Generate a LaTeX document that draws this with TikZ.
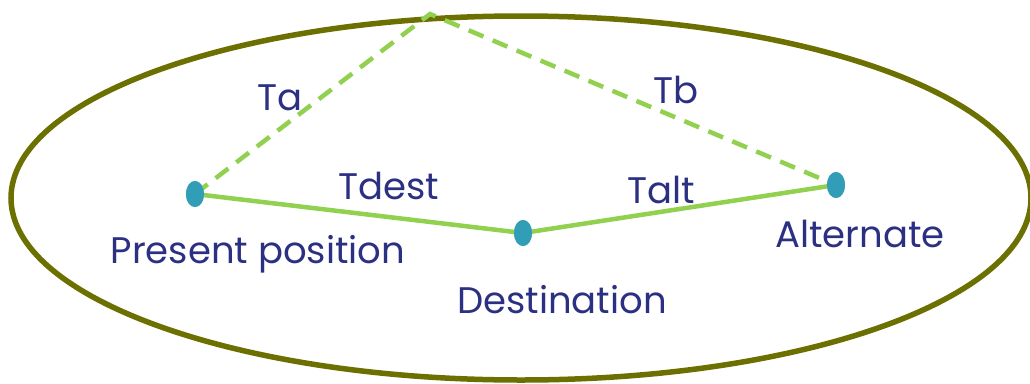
\documentclass[tikz,border=0pt]{standalone}
\usepackage{fontspec}
\setmainfont{Poppins}
\usetikzlibrary{shapes.geometric}
\definecolor{olive}{RGB}{107,112,0}
\definecolor{lgreen}{RGB}{146,208,80}
\definecolor{teal}{RGB}{49,157,183}
\definecolor{navy}{RGB}{44,48,130}
\begin{document}
\begin{tikzpicture}[x=1pt,y=-1pt,
  dot/.style={ellipse,fill=teal,minimum width=18pt,minimum height=26pt,inner sep=0pt},
  lbl/.style={text=navy,font=\fontsize{37}{40}\selectfont,inner sep=0pt},
  route/.style={draw=lgreen,line width=4.5pt},
  alt/.style={draw=lgreen,line width=4.5pt,dash pattern=on 16pt off 10pt}]
\useasboundingbox (0,0) rectangle (1030,383);
\draw[olive,line width=5.5pt] (521,198) ellipse [x radius=510, y radius=182];
\coordinate (apex) at (430,14);
\node[dot] (pp) at (195,194) {};
\node[dot] (dst) at (523,233) {};
\node[dot] (alt) at (836,185) {};
\draw[alt] (pp.center) -- (apex) -- (alt.center);
\draw[route] (pp.center) -- (dst.center) -- (alt.center);
\node[dot] at (pp) {};
\node[dot] at (dst) {};
\node[dot] at (alt) {};
\node[lbl] (ta) at (280,98) {Ta};
\node[lbl] (tb) at (676,90) {Tb};
\node[lbl] (tdest) at (389,186) {Tdest};
\node[lbl] (talt) at (661,190) {Talt};
\node[lbl] (lpp) at (258,254) {Present position};
\node[lbl] (ldst) at (562,300) {Destination};
\node[lbl] (lalt) at (860,234) {Alternate};
\end{tikzpicture}
\end{document}
